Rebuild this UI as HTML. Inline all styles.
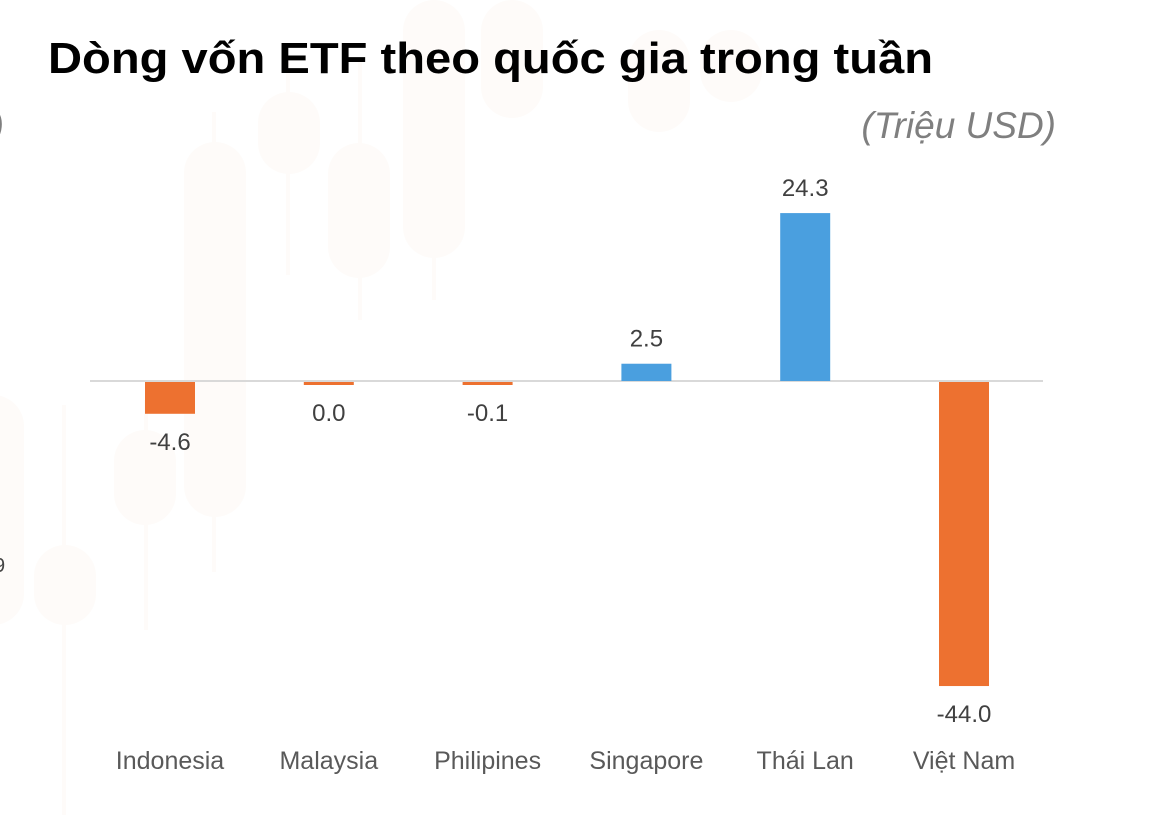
<!DOCTYPE html>
<html><head><meta charset="utf-8">
<style>
body{margin:0;width:1158px;height:832px;background:#fff;overflow:hidden;font-family:"Liberation Sans",sans-serif}
svg{position:absolute;left:0;top:0}
</style></head>
<body>
<svg id="chart" width="1158" height="832">
  <g id="bg" fill="#fefbf9" stroke="none">
    <rect x="184" y="142" width="62" height="375" rx="31"/>
    <rect x="258" y="92" width="62" height="82" rx="31"/>
    <rect x="328" y="143" width="62" height="135" rx="31"/>
    <rect x="403" y="0" width="62" height="258" rx="31"/>
    <rect x="481" y="0" width="62" height="118" rx="31"/>
    <rect x="628" y="30" width="62" height="102" rx="31"/>
    <rect x="700" y="30" width="62" height="72" rx="31"/>
    <rect x="114" y="430" width="62" height="95" rx="31"/>
    <rect x="34" y="545" width="62" height="80" rx="31"/>
    <rect x="-38" y="395" width="62" height="230" rx="31"/>
    <rect x="212" y="112" width="4" height="460"/>
    <rect x="286" y="60" width="4" height="215"/>
    <rect x="358" y="60" width="4" height="260"/>
    <rect x="432" y="0" width="4" height="300"/>
    <rect x="144" y="400" width="4" height="230"/>
    <rect x="62" y="405" width="4" height="410"/>
  </g>
  <text x="48" y="73" font-size="44" font-weight="bold" fill="#000" textLength="885" lengthAdjust="spacingAndGlyphs">Dòng vốn ETF theo quốc gia trong tuần</text>
  <text x="1056" y="138" font-size="37" font-style="italic" fill="#7f7f7f" text-anchor="end">(Triệu USD)</text>
  <text x="-8" y="138" font-size="36" font-style="italic" fill="#7f7f7f">)</text>
  <text x="-6" y="572" font-size="20" fill="#444">9</text>
  <line x1="90" x2="1043" y1="381" y2="381" stroke="#d9d9d9" stroke-width="2"/>
  <g id="bars"></g>
</svg>
<script>
const categories = ["Indonesia","Malaysia","Philipines","Singapore","Thái Lan","Việt Nam"];
const values = [-4.6, -0.01, -0.1, 2.5, 24.3, -44.0];
const labels = ["-4.6","0.0","-0.1","2.5","24.3","-44.0"];

const zeroY = 381, scale = 6.91, x0 = 170, step = 158.8, bw = 50;
const yOf = v => zeroY - v * scale;
const xOf = i => x0 + i * step;
const NS = "http://www.w3.org/2000/svg";
const g = document.getElementById("bars");
categories.forEach((c, i) => {
  const v = values[i];
  let h = Math.max(Math.abs(v) * scale, 3);
  const y = v >= 0 ? zeroY - h : zeroY + 1;
  const r = document.createElementNS(NS, "rect");
  r.setAttribute("x", xOf(i) - bw / 2);
  r.setAttribute("y", y);
  r.setAttribute("width", bw);
  r.setAttribute("height", h);
  r.setAttribute("fill", v >= 0 ? "#4a9fdf" : "#ed7130");
  
  
  g.appendChild(r);
  const t = document.createElementNS(NS, "text");
  t.setAttribute("x", xOf(i));
  t.setAttribute("y", v >= 0 ? y - 17 : y + h + 36);
  t.setAttribute("text-anchor", "middle");
  t.setAttribute("font-size", "24");
  t.setAttribute("fill", "#404040");
  t.textContent = labels[i];
  
  
  g.appendChild(t);
  const cl = document.createElementNS(NS, "text");
  cl.setAttribute("x", xOf(i));
  cl.setAttribute("y", 769);
  cl.setAttribute("text-anchor", "middle");
  cl.setAttribute("font-size", "25");
  cl.setAttribute("fill", "#595959");
  cl.textContent = c;
  
  
  g.appendChild(cl);
});
</script>
</body></html>
